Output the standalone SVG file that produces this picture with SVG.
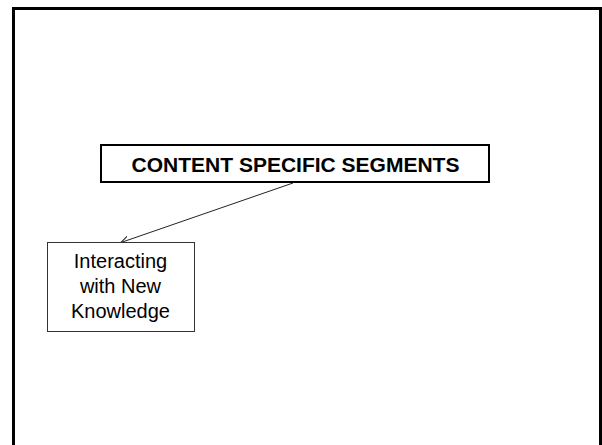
<svg xmlns="http://www.w3.org/2000/svg" width="602" height="445" viewBox="0 0 602 445">
  <style>
    .frame { fill: none; stroke: #000; stroke-width: 3; }
    .title-box { fill: #fff; stroke: #000; stroke-width: 2; }
    .node-box { fill: #fff; stroke: #333; stroke-width: 1; }
    .title { font-family: "Liberation Sans", Arial, sans-serif; font-weight: bold; font-size: 21px; fill: #000; text-anchor: middle; }
    .label { font-family: "Liberation Sans", Arial, sans-serif; font-size: 20px; fill: #000; text-anchor: middle; }
    .edge { fill: none; stroke: #222; stroke-width: 1; }
  </style>
  <defs>
    <marker id="arrow" markerWidth="10" markerHeight="10" refX="8" refY="4" orient="auto" markerUnits="userSpaceOnUse">
      <path d="M0,0 L8,4 L0,8" fill="none" stroke="#222" stroke-width="1"/>
    </marker>
  </defs>
  <rect x="0" y="0" width="602" height="445" fill="#fff"/>
  <rect class="frame" x="13.5" y="8.5" width="587" height="445"/>
  <g id="connectors">
    <line class="edge" x1="293" y1="183" x2="121" y2="242.5" marker-end="url(#arrow)"/>
  </g>
  <g id="title">
    <rect class="title-box" x="101" y="145" width="388" height="37"/>
    <text class="title" x="295.5" y="172">CONTENT SPECIFIC SEGMENTS</text>
  </g>
  <g id="node-interacting">
    <rect class="node-box" x="47.5" y="242.5" width="147" height="89"/>
    <text class="label" x="120.5" y="268">Interacting</text>
    <text class="label" x="120.5" y="293">with New</text>
    <text class="label" x="120.5" y="318">Knowledge</text>
  </g>
</svg>
